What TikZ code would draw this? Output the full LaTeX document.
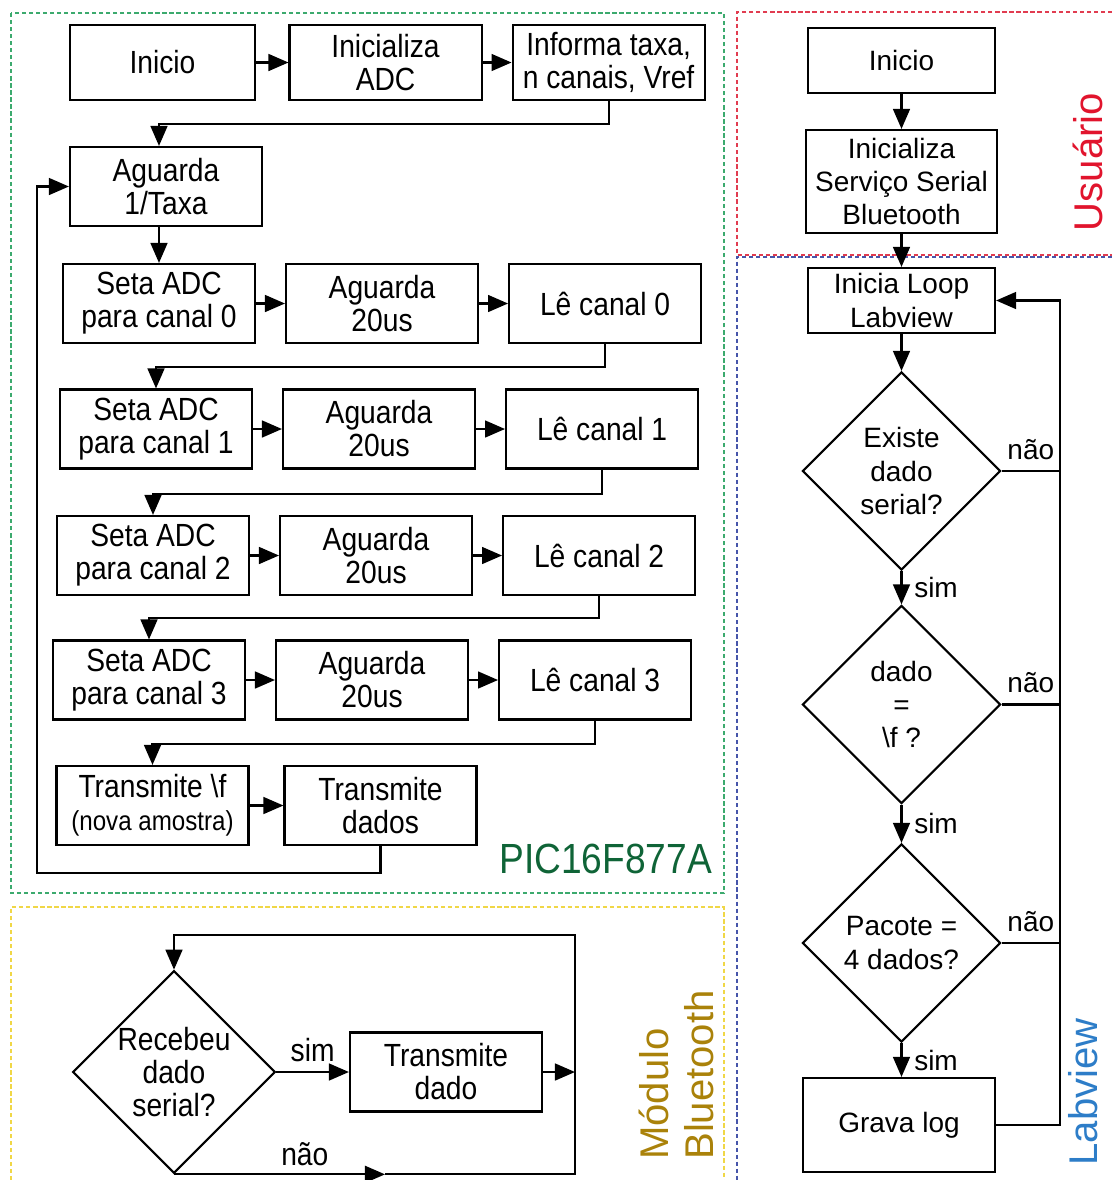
\documentclass[tikz,border=0pt]{standalone}
\usepackage{fontspec}
\setmainfont{Liberation Sans}
\newfontfamily\narrowfont[FakeStretch=0.88]{Liberation Sans}
\usetikzlibrary{shapes.geometric, positioning, arrows.meta}

\definecolor{verdemold}{RGB}{60,170,110}
\definecolor{vermold}{RGB}{225,60,80}
\definecolor{azulmold}{RGB}{70,85,170}
\definecolor{amarmold}{RGB}{240,215,70}
\definecolor{verdetxt}{RGB}{15,100,55}
\definecolor{ourotxt}{RGB}{170,130,10}
\definecolor{vermtxt}{RGB}{225,20,45}
\definecolor{azultxt}{RGB}{45,125,200}

\newcommand{\esq}{\narrowfont\fontsize{22.8}{23.5}\selectfont}
\newcommand{\dir}{\fontsize{19.9}{23.8}\selectfont}

\begin{document}
\begin{tikzpicture}[x=0.025cm, y=-0.025cm, node distance=5.575cm, on grid,
    >={Triangle[length=0.5cm,width=0.42cm]}, line width=1.5pt]
        \tikzstyle{bloco}=[draw, rectangle, minimum width=4.8cm, minimum height=1.975cm, inner sep=0pt, align=center, font=\esq]
        \tikzstyle{bloco dir}=[bloco, font=\dir]
        \tikzstyle{decisao}=[draw, diamond, aspect=1, minimum width=4.95cm, minimum height=4.95cm, inner sep=0pt, align=center, font=\dir]
        \tikzstyle{decisao esq}=[decisao, font=\esq]
        \tikzstyle{moldura}=[line width=1.3pt, dash pattern=on 3pt off 2pt]
        \tikzstyle{rotulo}=[font=\fontsize{28.5}{32}\selectfont, inner sep=0pt]

        \useasboundingbox (0,0) rectangle (1112,1180);

        % molduras
        \draw[moldura, verdemold] (11,13) rectangle (724,893);
        \draw[moldura, vermold] (1112,12) -- (737,12) -- (737,255) -- (1112,255);
        \draw[moldura, azulmold] (1112,257) -- (737,257) -- (737,1180);
        \draw[moldura, amarmold] (11,1180) -- (11,907) -- (724,907) -- (724,1180);

        % PIC16F877A
        \node[bloco, minimum width=4.625cm, minimum height=1.875cm] (inicio) at (162.5,62.5) {Inicio};
        \node[bloco, minimum height=1.875cm] (inicadc) [right=of inicio] {Inicializa\\ADC};
        \node[bloco, minimum height=1.875cm] (informa) [right=of inicadc] {Informa taxa,\\n canais, Vref};
        \node[bloco] (aguarda) at (166,186.5) {Aguarda\\1/Taxa};

        \node[bloco] (seta0) at (159,303.5) {Seta ADC\\para canal 0};
        \node[bloco] (ag0) [right=of seta0] {Aguarda\\20us};
        \node[bloco] (le0) [right=of ag0] {Lê canal 0};
        \node[bloco] (seta1) at (156,429) {Seta ADC\\para canal 1};
        \node[bloco] (ag1) [right=of seta1] {Aguarda\\20us};
        \node[bloco] (le1) [right=of ag1] {Lê canal 1};
        \node[bloco] (seta2) at (153,555.5) {Seta ADC\\para canal 2};
        \node[bloco] (ag2) [right=of seta2] {Aguarda\\20us};
        \node[bloco] (le2) [right=of ag2] {Lê canal 2};
        \node[bloco] (seta3) at (149,680) {Seta ADC\\para canal 3};
        \node[bloco] (ag3) [right=of seta3] {Aguarda\\20us};
        \node[bloco] (le3) [right=of ag3] {Lê canal 3};

        \node[bloco] (txf) at (152.5,805.5) {Transmite \textbackslash f\\{\narrowfont\fontsize{19.5}{23.5}\selectfont(nova amostra)}};
        \node[bloco] (txd) at (380.5,805.5) {Transmite\\dados};

        \path[->]
        (inicio) edge (inicadc)
        (inicadc) edge (informa)
        (seta0) edge (ag0) (ag0) edge (le0)
        (seta1) edge (ag1) (ag1) edge (le1)
        (seta2) edge (ag2) (ag2) edge (le2)
        (seta3) edge (ag3) (ag3) edge (le3)
        (txf) edge (txd);

        \draw[->] (informa.south) -- ++(0,23) -| (aguarda.north -| seta0.north);
        \draw[->] (aguarda.south -| seta0.north) -- (seta0.north);
        \draw[->] (le0.south) -- ++(0,23) -| (seta1.north);
        \draw[->] (le1.south) -- ++(0,24) -| (seta2.north);
        \draw[->] (le2.south) -- ++(0,22) -| (seta3.north);
        \draw[->] (le3.south) -- ++(0,23) -| (txf.north);
        \coordinate (volta) at (37,873);
        \draw[->] (txd.south) |- (volta) |- (aguarda.west);

        \node[rotulo, verdetxt, font=\narrowfont\fontsize{30}{32}\selectfont, anchor=base east] (pic) at (713,873) {PIC16F877A};

        % Modulo Bluetooth
        \node[decisao esq] (recebeu) at (174,1072) {Recebeu\\dado\\serial?};
        \node[bloco] (txdado) at (446,1072) {Transmite\\dado};
        \coordinate (topo) at (575,935);
        \coordinate (meiox) at (385,0);
        \coordinate (meio) at (recebeu.south -| meiox);
        \coordinate (base) at (recebeu.south -| topo);

        \path[->] (recebeu) edge node[above, font=\esq, yshift=3pt] {sim} (txdado);
        \draw[->] (txdado) -- (txdado -| topo);
        \draw[->] (recebeu.south) -- node[above, pos=0.62, font=\esq, yshift=2pt] {não} (meio);
        \draw[->] (meio) -- (base) -- (topo) -| (recebeu.north);

        \node[rotulo, ourotxt, rotate=90, align=left] (modulo) at (676,1075) {Módulo\\Bluetooth};

        % Usuario / Labview
        \node[bloco dir, minimum width=4.675cm, minimum height=1.625cm] (inicio2) at (901.5,60.5) {Inicio};
        \node[bloco dir, minimum width=4.775cm, minimum height=2.575cm] (servico) at (901.5,181.5) {Inicializa\\Serviço Serial\\Bluetooth};
        \node[bloco dir, minimum width=4.675cm, minimum height=1.625cm] (loop) at (901.5,300.5) {Inicia Loop\\Labview};
        \node[decisao] (existe) at (901.5,471) {Existe\\dado\\serial?};
        \node[decisao] (igualf) at (901.5,704.5) {dado\\=\\\textbackslash f ?};
        \node[decisao] (pacote) at (901.5,943) {Pacote =\\4 dados?};
        \node[bloco dir, minimum height=2.35cm] (grava) at (899,1125) {Grava log};

        \path[->]
        (inicio2) edge (servico)
        (servico) edge (loop)
        (loop) edge (existe)
        (existe) edge node[right, font=\dir, xshift=5pt] {sim} (igualf)
        (igualf) edge node[right, font=\dir, xshift=5pt] {sim} (pacote)
        (pacote) edge node[right, font=\dir, xshift=5pt] {sim} (grava.north -| pacote);

        \coordinate (canto) at (1060,1125);
        \draw[->] (grava) -- (canto) |- (loop);
        \draw (existe) -- node[above, font=\dir, yshift=4pt] {não} (existe -| canto);
        \draw (igualf) -- node[above, font=\dir, yshift=4pt] {não} (igualf -| canto);
        \draw (pacote) -- node[above, font=\dir, yshift=4pt] {não} (pacote -| canto);

        \node[rotulo, vermtxt, rotate=90] (usuario) at (1088,162) {Usuário};
        \node[rotulo, azultxt, rotate=90] (labview) at (1083,1092) {Labview};
    \end{tikzpicture}
\end{document}
